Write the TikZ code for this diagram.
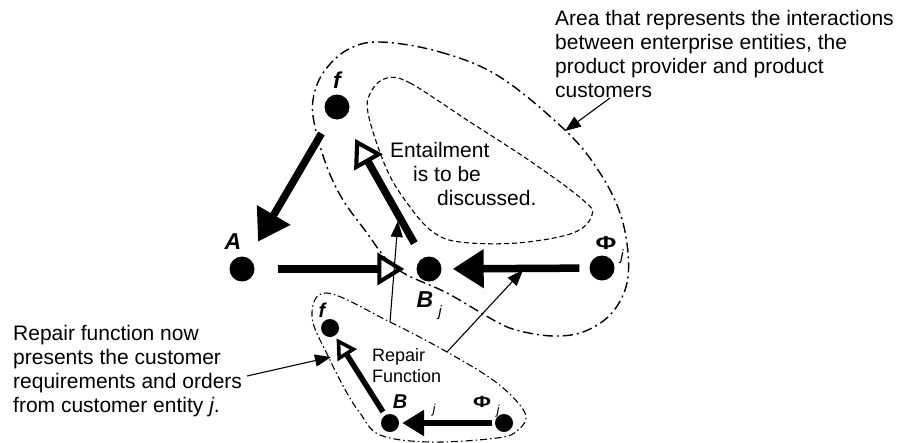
\documentclass[tikz,border=0pt]{standalone}
\usepackage{fontspec}
\setmainfont{Liberation Sans}
\usetikzlibrary{arrows.meta}
\begin{document}
\begin{tikzpicture}[x=1pt,y=-1pt,
  dot/.style={circle,fill=black,inner sep=0pt,minimum size=25pt},
  sdot/.style={circle,fill=black,inner sep=0pt,minimum size=18pt},
  lbl/.style={font=\fontsize{23}{24}\selectfont\bfseries\itshape,inner sep=0pt},
  philbl/.style={font=\fontsize{22}{22}\selectfont\bfseries,inner sep=0pt},
  sublbl/.style={font=\fontsize{15}{15}\selectfont\itshape,inner sep=0pt},
  slbl/.style={font=\fontsize{20}{20}\selectfont\bfseries\itshape,inner sep=0pt},
  sphilbl/.style={font=\fontsize{19}{19}\selectfont\bfseries,inner sep=0pt},
  ssublbl/.style={font=\fontsize{13}{13}\selectfont\itshape,inner sep=0pt},
  note/.style={font=\fontsize{21}{24}\selectfont,align=left,inner sep=0pt,anchor=north west},
  snote/.style={font=\fontsize{18}{21}\selectfont,align=left,inner sep=0pt,anchor=north west},
  bigflow/.style={line width=7.5pt,-{Triangle[length=31pt 0,width=37pt 0]}},
  bigopen/.style={line width=7.5pt,-{Triangle[length=27pt 0,width=32pt 0,fill=white,line width=0pt 0.55]}},
  smallflow/.style={line width=6.5pt,-{Triangle[length=22pt 0,width=25pt 0]}},
  smallopen/.style={line width=5.5pt,-{Triangle[length=20pt 0,width=22pt 0,fill=white,line width=0pt 0.65]}},
  pointer/.style={line width=1.1pt,-{Triangle[length=16pt 0,width=12pt 0]}},
  outerzone/.style={line width=1.4pt,dash pattern=on 10pt off 4pt on 2pt off 4pt},
  innerzone/.style={line width=1.1pt,dash pattern=on 5pt off 3pt},
  repairzone/.style={line width=1.1pt,dash pattern=on 7pt off 3pt on 1.5pt off 3pt}
]
\useasboundingbox (0,0) rectangle (901,442);

% interaction area (dash-dot) and entailment area (dashed)
\draw[outerzone] plot[smooth cycle,tension=0.6] coordinates {
  (380,42) (440,52) (500,77) (567,132) (600,173) (620,213) (628,253)
  (626,287) (610,315) (583,332) (553,336) (520,331) (497,322) (447,293)
  (407,275) (387,260) (367,233) (343,200) (327,167) (315,127) (313,100)
  (323,73) (347,50)};
\draw[innerzone] plot[smooth cycle,tension=0.6] coordinates {
  (387,78) (410,83) (467,120) (533,163) (583,200) (592,215) (573,233)
  (517,243) (460,242) (433,232) (410,207) (387,170) (368,113) (372,90)};
% repair function area
\draw[repairzone] plot[smooth cycle,tension=0.6] coordinates {
  (327,293) (390,322) (447,352) (497,383) (525,413) (518,430) (497,438)
  (430,442) (380,435) (360,413) (347,393) (330,360) (312,317)};

% main entities
\node[dot] (f) at (337,107) {};
\node[dot] (A) at (242,269) {};
\node[dot] (B) at (429,269) {};
\node[dot] (Phi) at (602,268) {};

\node[lbl] (flab) at (337,80) {f};
\node[lbl] (Alab) at (233,242) {A};
\node[lbl] (Blab) at (425,300) {B};
\node[sublbl] (Bsub) at (440,313) {j};
\node[philbl] (Philab) at (606,243) {\scalebox{1.15}[0.85]{Φ}};
\node[sublbl] (Phisub) at (622,257) {j};

% main flows
\draw[bigflow,shorten <=18pt,shorten >=19pt] (f) -- (A);
\draw[bigopen,shorten <=23pt,shorten >=12pt] (A) -- (B);
\draw[bigopen,shorten <=17pt,shorten >=24pt] (B) -- (f);
\draw[bigflow,shorten <=10pt,shorten >=11pt] (Phi) -- (B);

% repair function entities
\node[sdot] (fs) at (330,328) {};
\node[sdot] (Bs) at (390,423) {};
\node[sdot] (Phis) at (504,423) {};

\node[slbl] (fslab) at (322,310) {f};
\node[slbl] (Bslab) at (400,402) {B};
\node[ssublbl] (Bssub) at (434,410) {j};
\node[sphilbl] (Phislab) at (482,402) {\scalebox{1.15}[0.85]{Φ}};
\node[ssublbl] (Phissub) at (498,411) {j};

\draw[smallopen,shorten <=4pt,shorten >=3pt] (Bs) -- (fs);
\draw[smallflow,shorten <=3pt,shorten >=3pt] (Phis) -- (Bs);

% texts
\node[note] (areatext) at (555,10) {Area that represents the interactions\\
  between enterprise entities, the\\ product provider and product\\ customers};
\node[note] (entail) at (390,142) {Entailment\\ \hspace*{23pt}is to be\\ \hspace*{47pt}discussed.};
\node[note] (repairtext) at (13,325) {Repair function now\\ presents the customer\\
  requirements and orders\\ from customer entity \textit{j}.};
\node[snote] (repairlab) at (372,348) {Repair\\ Function};

% pointers
\coordinate (p1s) at (390,322);
\coordinate (p1t) at (398,221);
\coordinate (p2s) at (447,352);
\coordinate (p2t) at (523,270);
\coordinate (p3s) at (610,98);
\coordinate (p3t) at (565,131);
\coordinate (p4s) at (247,376);
\coordinate (p4t) at (331,357);
\draw[pointer] (p1s) -- (p1t);
\draw[pointer] (p2s) -- (p2t);
\draw[pointer] (p3s) -- (p3t);
\draw[pointer] (p4s) -- (p4t);
\end{tikzpicture}
\end{document}
